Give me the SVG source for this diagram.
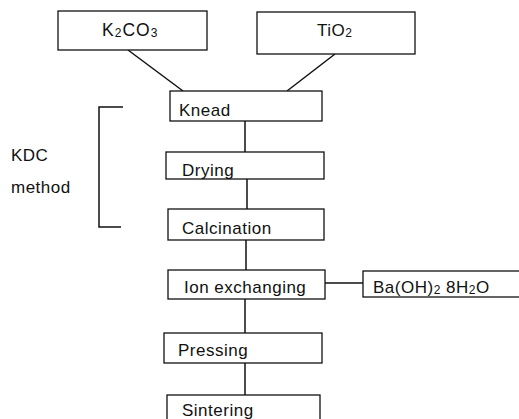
<svg xmlns="http://www.w3.org/2000/svg" width="519" height="419" viewBox="0 0 519 419">
<style>
  .box { fill: #fff; stroke: #111; stroke-width: 1.3; }
  .ln { fill: none; stroke: #111; stroke-width: 1.5; }
  text { font-family: "Liberation Sans", Arial, sans-serif; font-size: 17px; fill: #111; letter-spacing: 0.5px; }
  .sub { font-size: 12px; }
</style>
<rect width="519" height="419" fill="#fff"/>
<g id="connectors">
  <line class="ln" x1="128" y1="50" x2="183" y2="91"/>
  <line class="ln" x1="335" y1="54" x2="287" y2="91"/>
  <line class="ln" x1="245" y1="121" x2="245" y2="152"/>
  <line class="ln" x1="247" y1="179" x2="247" y2="209"/>
  <line class="ln" x1="246" y1="240" x2="246" y2="270"/>
  <line class="ln" x1="325" y1="283" x2="363" y2="283"/>
  <line class="ln" x1="245" y1="299" x2="245" y2="333"/>
  <line class="ln" x1="245" y1="363" x2="245" y2="395"/>
</g>
<g id="k2co3">
  <rect class="box" x="58" y="11" width="149" height="39"/>
  <text x="102" y="36" style="font-size:17.5px;letter-spacing:1px">K<tspan class="sub" dy="1">2</tspan><tspan dy="-1">CO</tspan><tspan class="sub" dy="1">3</tspan></text>
</g>
<g id="tio2">
  <rect class="box" x="257" y="12" width="158" height="42"/>
  <text x="317" y="36">TiO<tspan class="sub" dy="1">2</tspan></text>
</g>
<g id="knead">
  <rect class="box" x="170" y="91" width="152" height="30"/>
  <text x="179" y="116">Knead</text>
</g>
<g id="kdc-method">
  <path class="ln" d="M123 107 H99 V227 H121"/>
  <text x="11" y="161">KDC</text>
  <text x="11" y="193">method</text>
</g>
<g id="drying">
  <rect class="box" x="166" y="152" width="158" height="27"/>
  <text x="182" y="176">Drying</text>
</g>
<g id="calcination">
  <rect class="box" x="168" y="209" width="156" height="31"/>
  <text x="182" y="234">Calcination</text>
</g>
<g id="ion-exchanging">
  <rect class="box" x="168" y="270" width="157" height="29"/>
  <text x="184" y="293">Ion exchanging</text>
</g>
<g id="baoh2">
  <rect class="box" x="363" y="271" width="170" height="26"/>
  <text x="373" y="293">Ba(OH)<tspan class="sub" dy="1">2</tspan><tspan dy="-1"> 8H</tspan><tspan class="sub" dy="1">2</tspan><tspan dy="-1">O</tspan></text>
</g>
<g id="pressing">
  <rect class="box" x="164" y="333" width="158" height="30"/>
  <text x="178" y="356">Pressing</text>
</g>
<g id="sintering">
  <rect class="box" x="167" y="395" width="153" height="40"/>
  <text x="182" y="416">Sintering</text>
</g>
</svg>
